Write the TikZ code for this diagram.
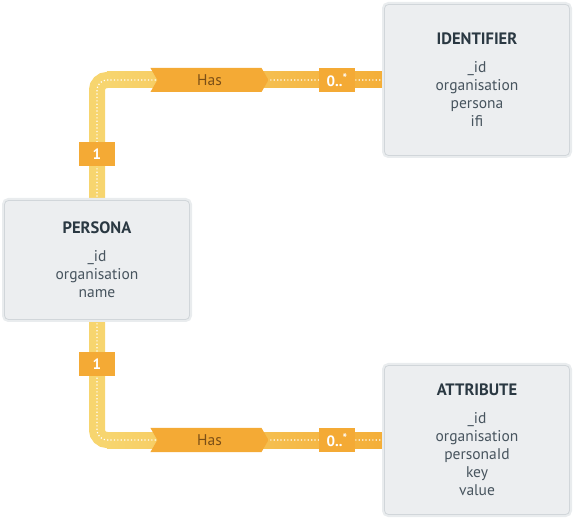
\documentclass[tikz,border=0pt]{standalone}
\usepackage{fontspec}
\setmainfont{PT Sans}
\usepackage{tikz}
\usetikzlibrary{positioning,shapes.symbols,calc,backgrounds}
\definecolor{erdyellow}{HTML}{F7D56F}
\definecolor{erdamber}{HTML}{F4AE38}
\definecolor{erdorange}{HTML}{F4AA35}
\definecolor{erdbrown}{HTML}{7A4F17}
\definecolor{erdfill}{HTML}{ECEEF0}
\definecolor{erdline}{HTML}{D1D6DA}
\definecolor{erdhalo}{HTML}{E9ECEE}
\definecolor{erdtitle}{HTML}{2A3842}
\definecolor{erdtext}{HTML}{47545E}

\tikzset{
  entity/.style={rectangle,rounded corners=4pt,fill=erdfill,draw=erdline,line width=0.8pt,
    preaction={draw=erdhalo,line width=5pt},minimum width=185pt,inner sep=0pt,
    align=center,font=\fontsize{15.5}{18}\selectfont,text=erdtext},
  band/.style={erdyellow,line width=16pt,rounded corners=10pt},
  trail/.style={white,line width=1.2pt,dash pattern=on 1.2pt off 2.2pt,rounded corners=10pt},
  card/.style={fill=erdorange,minimum width=36pt,minimum height=24pt,inner sep=0pt,
    text=white,font=\bfseries\fontsize{15}{15}\selectfont},
  relation/.style={signal,signal from=west,signal to=east,signal pointer angle=120,
    fill=erdorange,minimum width=118pt,minimum height=24pt,inner sep=0pt,
    text=erdbrown,font=\fontsize{15.5}{15.5}\selectfont}
}

\newcommand{\entitytitle}[1]{{\color{erdtitle}\bfseries\fontsize{16.5}{18}\selectfont #1}\\[10pt]}
\newcommand{\manystar}{\raisebox{4pt}{\fontsize{12}{12}\selectfont *}}

\begin{document}
\begin{tikzpicture}[x=1pt,y=1pt]
    \useasboundingbox (0,0) rectangle (573,-518);

    % entities
    \node[entity,minimum height=119pt] (persona) at (97,-260)
        {\entitytitle{PERSONA}\_id\\organisation\\name};
    \node[entity,minimum height=151pt] (identifier) at (477,-80)
        {\entitytitle{IDENTIFIER}\_id\\organisation\\persona\\ifi};
    \node[entity,minimum height=149pt] (attribute) at (477,-440)
        {\entitytitle{ATTRIBUTE}\_id\\organisation\\personaId\\key\\value};

    % connectors
    \begin{scope}[on background layer]
    \draw[band] (persona) |- (identifier);
    \shade[left color=erdyellow,right color=erdamber]
        ($(persona.north |- identifier.west)+(10pt,-8pt)$) rectangle ($(identifier.west)+(0,8pt)$);
    \draw[trail] (persona) |- (identifier);

    \draw[band] (persona) |- (attribute);
    \shade[left color=erdyellow,right color=erdamber]
        ($(persona.south |- attribute.west)+(10pt,-8pt)$) rectangle ($(attribute.west)+(0,8pt)$);
    \draw[trail] (persona) |- (attribute);
    \end{scope}

    % labels
    \node[card] (oneTop) [above=34pt of persona.north] {1};
    \node[card] (manyTop) [left=29pt of identifier.west] {0..\manystar};
    \node[relation] (hasTop) [left=50pt of manyTop] {Has};

    \node[card] (oneBottom) [below=32pt of persona.south] {1};
    \node[card] (manyBottom) [left=29pt of attribute.west] {0..\manystar};
    \node[relation] (hasBottom) [left=50pt of manyBottom] {Has};
\end{tikzpicture}
\end{document}
